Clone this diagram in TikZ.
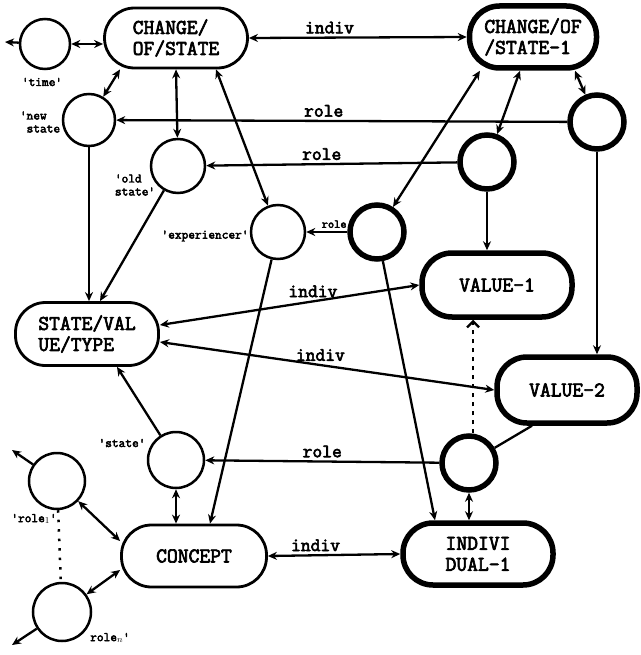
\documentclass[tikz,border=0pt]{standalone}
\usepackage{fontspec}
\setmonofont{Latin Modern Mono}[AutoFakeBold=3.2]
\usetikzlibrary{arrows.meta,calc}
\begin{document}
\begin{tikzpicture}[x=1pt,y=-1pt,
  box/.style={draw, line width=2.8pt, rounded corners=30pt, align=left, inner sep=0pt,
    font=\ttfamily\bfseries\fontsize{21}{21}\selectfont},
  thickbox/.style={box, line width=5.5pt},
  circ/.style={draw, circle, line width=2.5pt, inner sep=0pt, minimum size=#1},
  tcirc/.style={circ=#1, line width=5.5pt},
  arr/.style={line width=2.3pt, -{Stealth[length=9pt,width=8pt]}},
  dbl/.style={line width=2.3pt, {Stealth[length=9pt,width=8pt]}-{Stealth[length=9pt,width=8pt]}},
  lab/.style={font=\ttfamily\bfseries\fontsize{13}{13}\selectfont, inner sep=0pt, align=left},
  elab/.style={font=\ttfamily\bfseries\fontsize{19}{19}\selectfont, inner sep=3pt},
  slab/.style={font=\ttfamily\bfseries\fontsize{12}{12}\selectfont, inner sep=3pt}
]
\useasboundingbox (0,0) rectangle (640,655);

% nodes
\node[circ=50] (time) at (45,44) {};
\node[box, minimum width=143, minimum height=60] (chg) at (176,38) {CHANGE/\\OF/STATE};
\node[thickbox, minimum width=127, minimum height=62] (chgone) at (533,37) {CHANGE/OF\\/STATE-1};
\node[circ=52] (ns) at (89,120) {};
\node[circ=54] (os) at (178,166) {};
\node[circ=54] (ex) at (278,232) {};
\node[tcirc=54] (rt) at (597,122) {};
\node[tcirc=54] (mc) at (487,162) {};
\node[tcirc=54] (rc) at (377,232) {};
\node[thickbox, minimum width=150, minimum height=64] (vone) at (497,285) {VALUE-1};
\node[thickbox, minimum width=140, minimum height=66] (vtwo) at (567,390) {VALUE-2};
\node[box, minimum width=143, minimum height=63] (svt) at (87,334) {STATE/VAL\\UE/TYPE};
\node[circ=56] (st) at (176,460) {};
\node[box, minimum width=145, minimum height=62] (con) at (194,556) {CONCEPT};
\node[circ=56] (rone) at (57,481) {};
\node[circ=58] (rn) at (62,612) {};
\node[tcirc=54] (br) at (469,463) {};
\node[thickbox, minimum width=150, minimum height=62] (ind) at (478,554) {INDIVI\\DUAL-1};

\coordinate (tout) at (5,42);
\coordinate (r1out) at (12,450);
\coordinate (rnout) at (12,645);

% labels
\node[lab] (ltime) at (42,82) {'time'};
\node[lab, align=left] (lns) at (40,122) {'new\\\ state};
\node[lab] (los) at (135,185) {'old\\ state'};
\node[lab] (lex) at (205,236) {'experiencer'};
\node[lab] (lst) at (122,443) {'state'};
\node[lab] (lr1) at (34,519) {'role$_1$'};
\node[lab] (lrn) at (110,638) {role$_n$'};

% connectors
\draw[dbl] (time) -- (chg.west |- time);
\draw[arr] (time) -- (tout);
\draw[dbl] (chg.east) -- node[elab, above, pos=0.37] {indiv} (chgone.west);
\draw[dbl] ([xshift=-56pt]chg.south) -- (ns);
\draw[dbl] (chg.south) -- (os);
\draw[dbl] ([xshift=40pt]chg.south) -- (ex);
\draw[arr] (rt) -- node[elab, above, pos=0.54] {role} (ns);
\draw[arr] (mc) -- node[elab, above, pos=0.54] {role} (os);
\draw[arr] (rc) -- node[slab, above, pos=0.32] {role} (ex);
\draw[dbl] ([xshift=42pt]chgone.south) -- (rt);
\draw[dbl] ([xshift=-13pt]chgone.south) -- (mc);
\draw[dbl] ([xshift=-53pt]chgone.south) -- (rc);
\draw[arr] (mc.south) -- (mc.south |- vone.north);
\draw[arr] (rt.south) -- (rt.south |- vtwo.north);
\draw[arr] (ns.south) -- (ns.south |- svt.north);
\draw[arr] (os) -- ([xshift=13pt]svt.north);
\draw[dbl] ([yshift=9pt]svt.east) -- node[elab, above, pos=0.59] {indiv} (vone.west);
\draw[dbl] ([yshift=-8pt]svt.east) -- node[elab, above, pos=0.48] {indiv} (vtwo.west);
\draw[arr] (ex) -- ([xshift=16pt]con.north);
\draw[arr] (rc) -- ([xshift=-43pt]ind.north);
\draw[arr] (st) -- ([xshift=30pt]svt.south);
\draw[dbl] (st.south) -- (st.south |- con.north);
\draw[arr] (br) -- node[elab, above, pos=0.50] {role} (st);
\draw[line width=2.3pt, dash pattern=on 4pt off 5pt, -{Straight Barb[length=6pt,width=12pt]}]
  ($(br.north)+(4,0)$) -- ($(br.north |- vone.south)+(4,0)$);
\draw[line width=2.3pt] (br) -- ([xshift=-35pt]vtwo.south);
\draw[dbl] (br.south) -- (br.south |- ind.north);
\draw[dbl] (con.east) -- node[elab, above, pos=0.36] {indiv} (ind.west);
\draw[dbl] (rone) -- ([yshift=15pt]con.west);
\draw[dbl] (rn) -- ([yshift=-14pt]con.west);
\draw[arr] (rone) -- (r1out);
\draw[arr] (rn) -- (rnout);
\draw[line width=2.5pt, dash pattern=on 2.5pt off 7pt] (rone) -- (rn);
\end{tikzpicture}
\end{document}
